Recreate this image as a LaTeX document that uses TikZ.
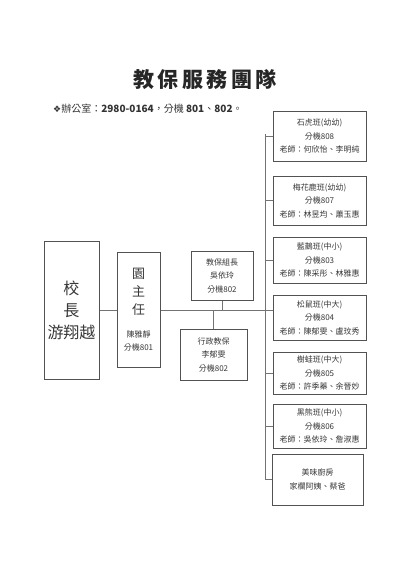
\documentclass[tikz,border=0pt]{standalone}
\usepackage{fontspec}
\setmainfont{Noto Sans CJK TC}
\newfontfamily\symfont{DejaVu Sans}
\begin{document}
\begin{tikzpicture}[x=1pt,y=-1pt,
  box/.style={draw=black!68,line width=1pt,fill=white,inner sep=0pt,align=center,text=black!78,
    font=\fontsize{8}{13.5}\selectfont},
  conn/.style={draw=black!55,line width=0.8pt}]
\fill[white] (0,0) rectangle (400,566);
\useasboundingbox (0,0) rectangle (400,566);

% title
\node[font=\fontsize{21}{24}\selectfont\bfseries,text=black!85] (title) at (205,80) {教\,保\,服\,務\,團\,隊};
\node[anchor=west,font=\fontsize{10}{12}\selectfont,text=black!80,inner sep=0pt] (office) at (53,109)
  {{\symfont\fontsize{9}{12}\selectfont ❖}辦公室：\textbf{2980-0164}，分機 \textbf{801}、\textbf{802}。};

% left boxes
\node[box,minimum width=55,minimum height=138,font=\fontsize{16}{22}\selectfont] (principal) at (71.5,310)
  {校\\長\\游翔越};
\node[box,minimum width=43,minimum height=115] (director) at (138.5,310)
  {{\fontsize{13}{13}\selectfont 園}\\[4.5pt]{\fontsize{13}{13}\selectfont 主}\\[4.5pt]{\fontsize{13}{13}\selectfont 任}\\[9pt]陳雅靜\\分機801};
\node[box,minimum width=62,minimum height=49] (leader) at (222,275.5)
  {教保組長\\吳依玲\\分機802};
\node[box,minimum width=67,minimum height=51] (admin) at (213.5,354.5)
  {行政教保\\李郁雯\\分機802};

% right boxes
\node[box,minimum width=93,minimum height=50] (c1) at (319.5,136) {石虎班(幼幼)\\分機808\\老師：何欣怡、李明純};
\node[box,minimum width=93,minimum height=49] (c2) at (319.5,200.5) {梅花鹿班(幼幼)\\分機807\\老師：林昱均、蕭玉惠};
\node[box,minimum width=93,minimum height=46] (c3) at (319.5,260) {藍鵲班(中小)\\分機803\\老師：陳采彤、林雅惠};
\node[box,minimum width=93,minimum height=45] (c4) at (319.5,317.5) {松鼠班(中大)\\分機804\\老師：陳郁雯、盧玟秀};
\node[box,minimum width=93,minimum height=42] (c5) at (319.5,373) {樹蛙班(中大)\\分機805\\老師：許季蓁、余晉妙};
\node[box,minimum width=93,minimum height=44] (c6) at (319.5,426) {黑熊班(中小)\\分機806\\老師：吳依玲、詹淑惠};
\node[box,minimum width=91,minimum height=51] (c7) at (317.5,479.5) {美味廚房\\家欄阿姨、蔡爸};

% connectors
\coordinate (ttop) at (265,134);
\coordinate (tbot) at (265,479.5);
\coordinate (main) at (265,310);
\draw[conn] (ttop) -- (tbot);
\draw[conn] (principal.east) -- (director.west);
\draw[conn] (director.east) -- (main);
\draw[conn] (main) -- (c4.west |- main);
\draw[conn] (leader.south) -- (leader.south |- main);
\draw[conn] (admin.north) -- (admin.north |- main);
\foreach \n in {c1,c2,c3,c5,c6,c7}{
  \draw[conn] (\n.west) -- (\n.west -| ttop);
}
\end{tikzpicture}
\end{document}
